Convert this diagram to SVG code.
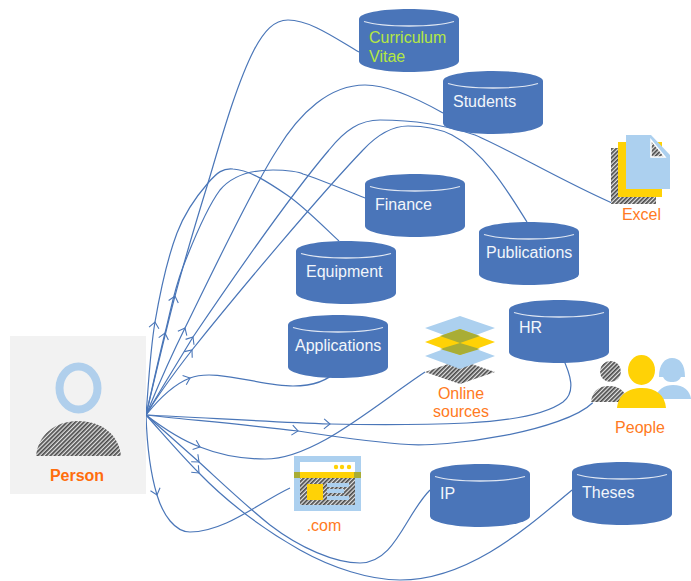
<svg xmlns="http://www.w3.org/2000/svg" width="691" height="581" viewBox="0 0 691 581">
<style>
text{font-family:"Liberation Sans",Arial,sans-serif;font-size:16px}
.w{fill:#f2f6fb}.o{fill:#ff7a22}
.c,.n{fill:none;stroke:#4a76b8;stroke-width:1.2}
.c{marker-mid:url(#a)}
.cb{fill:#4a75b9}.ci{fill:none;stroke:#dfe6f2;stroke-width:1.3}
.h{fill:url(#h)}.b{fill:#acd0ef}.y{fill:#ffd206}.ol{fill:#a9ad35}
</style>
<defs>
<pattern id="h" width="3" height="3" patternUnits="userSpaceOnUse" patternTransform="rotate(-45)">
<rect width="3" height="3" fill="#e4e4e4"/><rect width="3" height="1.700" fill="#4a4a4a"/>
</pattern>
<marker id="a" viewBox="-8 -6 10 12" markerWidth="10" markerHeight="12" refX="0" refY="0" orient="auto" markerUnits="userSpaceOnUse">
<path d="M-6,-5 L0,0 L-6,5" fill="none" stroke="#4a76b8" stroke-width="1.100"/>
</marker>
<g id="cyl"><path class="cb" d="M0,10 C0,4 22,0 50,0 C78,0 100,4 100,10 V52 C100,58 78,63 50,63 C22,63 0,58 0,52 Z"/><path class="ci" d="M5,12.500 C25,18.500 75,18.500 95,12.500"/></g>
</defs>
<g id="connectors">
<path class="c" d="M146,415 C147.500,399.500 149.800,352.300 155,322 C160.200,291.700 168.200,256.200 177,233"/>
<path class="n" d="M177,233 C185.800,209.800 198.700,193.700 208,183 C217.300,172.300 223,168 233,169 C250,170 269.300,183 287,195 C304.700,207 330.300,233.300 339,241"/>
<path class="c" d="M146,415 C149.200,401.300 158.800,357.700 165,333 C171.200,308.300 173.800,290.800 183,267"/>
<path class="n" d="M183,267 C192.200,243.200 208.300,205.700 220,190 C231.700,176 250,170 273,170 C287,170 300,172 303,174 C318.300,178.700 354.700,194 365,198"/>
<path class="c" d="M146,415 C150.800,395.200 164.700,334.700 175,296 C185.300,257.300 200.500,207.300 208,183"/>
<path class="n" d="M208,183 C220,143 236,85 254,50 C264,31 274,20 288,20 C310,20 335,38 359,52"/>
<path class="c" d="M146,415 C152,401 163.200,372 185,328 C206.800,284 251.200,189.700 277,150"/>
<path class="n" d="M277,150 C300,112 330,85 365,85 C390,85 420,100 443,113"/>
<path class="c" d="M146,415 C155,399 170,375 193,337 C235,275 295,190 329,150"/>
<path class="n" d="M329,150 C345,130 360,120 380,120 C410,120 445,125 475,135 C510,150 560,180 612,203"/>
<path class="c" d="M146,415 C156,398 175,372 192,350 C240,290 320,195 363,150"/>
<path class="n" d="M363,150 C378,134 393,126 408,126 C425,126 440,129 452,135 C485,152 510,195 527,222"/>
<path class="c" d="M146,415 C158,400 172,385 190,378 C215,368 260,386 293,386"/>
<path class="n" d="M293,386 C310,386 327,382 337,370"/>
<path class="c" d="M146,415 C210,418 270,422 330,424 C375,425 420,425 467,423"/>
<path class="n" d="M467,423 C505,421 545,415 563,402 C576,392 571,375 561.700,355.700"/>
<path class="c" d="M146,415 C170,418 250,425 298,431 C330,436 365,441 400,444"/>
<path class="n" d="M400,444 C450,449 565,430 592.700,402.700"/>
<path class="c" d="M146,415 C163,428 181,440 200,447 C220,455 245,459 265,459"/>
<path class="n" d="M265,459 C315,459 375,405 425,372"/>
<path class="c" d="M146,415 C163,430 182,447 199,462 C222,483 245,505 270,525"/>
<path class="n" d="M270,525 C300,548 335,563 360,563 C395,563 405,515 430,490"/>
<path class="c" d="M146,415 C164,435 181,455 199,473 C230,505 265,530 300,550"/>
<path class="n" d="M300,550 C332,568 370,580 400,580 C470,580 530,525 572,490"/>
<path class="c" d="M146,415 C147,445 150,472 157,495 C163,515 175,532 190,532"/>
<path class="n" d="M190,532 C225,532 260,502 290,488"/>
</g>
<g id="person">
<rect x="10" y="336" width="136" height="158" fill="#f2f2f2"/>
<ellipse cx="78.500" cy="388" rx="19" ry="21.500" fill="none" stroke="#b0cfec" stroke-width="8"/>
<path class="h" d="M36,456 C38,435 55,421 78,421 C102,421 119,435 121,456 Z"/>
<text x="77" y="481" text-anchor="middle" font-weight="bold" style="fill:#ff6d0d">Person</text>
</g>
<g id="cv"><use href="#cyl" x="359" y="9"/><text x="369" y="43" fill="#b5e843">Curriculum</text><text x="369" y="62" fill="#b5e843">Vitae</text></g>
<g id="students"><use href="#cyl" x="443" y="71"/><text x="453" y="107" class="w">Students</text></g>
<g id="finance"><use href="#cyl" x="365" y="174"/><text x="375" y="210" class="w">Finance</text></g>
<g id="publications"><use href="#cyl" x="479" y="222"/><text x="486" y="258" class="w">Publications</text></g>
<g id="equipment"><use href="#cyl" x="296" y="241"/><text x="306" y="277" class="w">Equipment</text></g>
<g id="applications"><use href="#cyl" x="288" y="315"/><text x="295" y="351" class="w">Applications</text></g>
<g id="hr"><use href="#cyl" x="509" y="300"/><text x="519" y="333" class="w">HR</text></g>
<g id="ip"><use href="#cyl" x="430" y="464"/><text x="440" y="499" class="w">IP</text></g>
<g id="theses"><use href="#cyl" x="572" y="462"/><text x="582" y="498" class="w">Theses</text></g>
<g id="excel">
<rect class="h" x="611" y="148" width="45" height="56"/>
<rect class="y" x="618" y="142" width="44" height="55"/>
<path class="b" d="M626,135 H651 L670,155 V189 H626 Z"/>
<path class="h" stroke="#fff" stroke-width="1.500" d="M651,140 V157 H665 Z"/>
<text x="641.500" y="220" text-anchor="middle" class="o">Excel</text>
</g>
<g id="online">
<path class="h" d="M460,360 L495,372 L460,384 L425,372 Z"/>
<path class="b" d="M460,316 L495,328 L460,341 L425,328 Z"/>
<path class="b" d="M460,343 L495,356 L460,369 L425,356 Z"/>
<path class="y" d="M460,329 L495,342 L460,355 L425,342 Z"/>
<path class="ol" d="M460,329 L480,336 L460,343 L440,336 Z"/>
<path class="ol" d="M460,343 L480,349 L460,355 L440,349 Z"/>
<text x="461" y="399" text-anchor="middle" class="o">Online</text>
<text x="461" y="417" text-anchor="middle" class="o">sources</text>
</g>
<g id="people">
<path class="b" d="M655,399 C657,389 665,385 673,385 C684,385 690,391 691,399 Z"/>
<path class="b" d="M659,377 C659,364 665,358 672,358 C680,358 685,364 685,377 H681 C679,381 676,382 672,382 C668,382 665,381 663,377 Z"/>
<circle class="h" cx="610.500" cy="371.500" r="10.500"/>
<path class="h" d="M591,402 C592,392 598,386 609,386 C620,386 626,392 628,402 Z"/>
<path class="y" d="M617,408 C618,395 628,388 642,388 C656,388 665,395 666,408 Z"/>
<ellipse class="y" cx="641.500" cy="370" rx="13.500" ry="15"/>
<text x="640" y="433" text-anchor="middle" class="o">People</text>
</g>
<g id="com">
<rect class="b" x="294" y="456" width="67" height="55"/>
<rect x="300" y="462" width="55" height="10" fill="#fff"/>
<rect class="ol" x="294" y="472" width="67" height="6"/>
<rect class="y" x="300" y="472" width="54" height="6"/>
<rect class="h" x="300" y="478" width="55" height="27"/>
<rect class="y" x="307" y="484" width="16" height="16"/>
<rect class="b" x="327" y="483" width="22" height="4"/>
<rect class="b" x="327" y="489" width="17" height="4"/>
<rect class="b" x="327" y="496" width="22" height="4"/>
<circle class="y" cx="336" cy="467" r="2.200"/><circle class="y" cx="342" cy="467" r="2.200"/><circle class="y" cx="349" cy="467" r="2.200"/>
<text x="324" y="531" text-anchor="middle" class="o">.com</text>
</g>
</svg>
